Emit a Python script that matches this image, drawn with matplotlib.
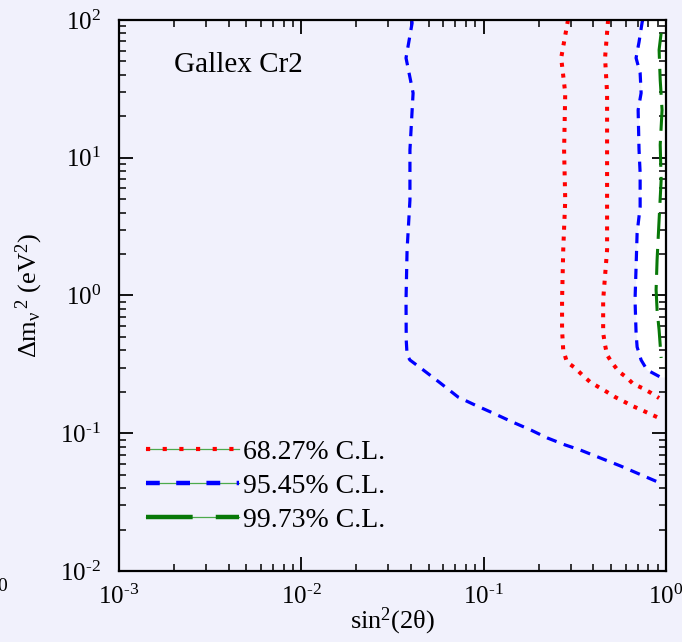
import matplotlib
matplotlib.use("Agg")
import matplotlib.pyplot as plt
import numpy as np
from matplotlib.lines import Line2D
from matplotlib.legend_handler import HandlerTuple
from matplotlib.ticker import FuncFormatter

# contour: sin^2(2theta), dm^2 (eV^2)
blue_left_x = [0.0403, 0.0405, 0.0375, 0.0410, 0.0394, 0.0394, 0.0380, 0.0375, 0.0376,
               0.0380, 0.0394, 0.0466, 0.0577, 0.0724, 0.0898, 0.1127, 0.143, 0.180,
               0.223, 0.280, 0.338, 0.56, 0.929]
blue_left_y = [100, 95, 53, 29.5, 11.4, 4.93, 2.14, 0.927, 0.475,
               0.370, 0.340, 0.288, 0.232, 0.183, 0.160, 0.140, 0.121, 0.106,
               0.0925, 0.0822, 0.0756, 0.058, 0.0435]

blue_right_x = [0.745, 0.740, 0.711, 0.685, 0.721, 0.730, 0.703, 0.711, 0.721, 0.721,
                0.694, 0.685, 0.676, 0.685, 0.694, 0.730, 0.787, 0.929]
blue_right_y = [100, 96.7, 69.2, 53, 41.2, 29.5, 22.2, 11.4, 7.75, 4.39,
                2.84, 1.61, 0.927, 0.535, 0.423, 0.340, 0.288, 0.256]

red_left_x = [0.290, 0.266, 0.280, 0.276, 0.280, 0.273, 0.269, 0.269, 0.273, 0.286, 0.317,
              0.347, 0.384, 0.425, 0.475, 0.526, 0.582, 0.652, 0.730, 0.818, 0.916]
red_left_y = [100, 53, 29.5, 11.4, 4.93, 2.14, 0.927, 0.562, 0.402, 0.329, 0.298,
              0.265, 0.235, 0.217, 0.199, 0.183, 0.171, 0.158, 0.148, 0.138, 0.129]

red_right_x = [0.481, 0.463, 0.475, 0.475, 0.475, 0.452, 0.452, 0.463, 0.475, 0.506,
               0.553, 0.604, 0.661, 0.740, 0.828, 0.916]
red_right_y = [100, 53, 29.5, 11.4, 2.14, 0.927, 0.535, 0.437, 0.370, 0.324,
               0.279, 0.256, 0.228, 0.213, 0.196, 0.180]

green_x = [0.940, 0.916, 0.929, 0.951, 0.929, 0.940, 0.916, 0.893, 0.882, 0.893, 0.916, 0.940]
green_y = [80.5, 60.6, 36.7, 22.2, 12.4, 6.89, 3.53, 1.81, 1.10, 0.785, 0.562, 0.352]

labels = ["68.27% C.L.", "95.45% C.L.", "99.73% C.L."]

bg = "#f1f1fc"
red = "#ff0000"
blue = "#0000ff"
green = "#087808"

plt.rcParams["font.family"] = "Liberation Serif"
plt.rcParams["mathtext.fontset"] = "custom"
plt.rcParams["mathtext.rm"] = "Liberation Serif"
plt.rcParams["mathtext.it"] = "Liberation Serif"
plt.rcParams["axes.unicode_minus"] = False


def pow10(v, pos):
    # 10^n with a short hyphen in the exponent, like the original
    e = int(round(np.log10(v)))
    s = str(e).replace("-", r"\text{-}")
    return r"$\mathdefault{10^{%s}}$" % s


fig = plt.figure(figsize=(6.82, 6.42), dpi=100, facecolor=bg)
ax = fig.add_axes([0.1745, 0.1106, 0.8021, 0.8583], facecolor=bg)
ax.set_xscale("log")
ax.set_yscale("log")
ax.set_xlim(1e-3, 1)
ax.set_ylim(1e-2, 1e2)
ax.xaxis.set_major_formatter(FuncFormatter(pow10))
ax.yaxis.set_major_formatter(FuncFormatter(pow10))

# white allowed strip on the right
ax.fill_betweenx(blue_right_y, blue_right_x, 1, color="white", lw=0)

red_kw = dict(color=red, lw=2.9, dashes=(1, 1.7))
blue_kw = dict(color=blue, lw=2.3, dashes=(3.2, 2.4))
green_kw = dict(color=green, lw=2.2, dashes=(8.5, 3.3))

ax.plot(red_left_x, red_left_y, **red_kw)
ax.plot(red_right_x, red_right_y, **red_kw)
ax.plot(blue_left_x, blue_left_y, **blue_kw)
ax.plot(blue_right_x, blue_right_y, **blue_kw)
ax.plot(green_x, green_y, **green_kw)

thin = dict(color="#4caa4c", lw=0.9)
handles = [
    (Line2D([], [], **thin), Line2D([], [], color=red, lw=3, dashes=(1, 3))),
    (Line2D([], [], **thin), Line2D([], [], color=blue, lw=3.2, dashes=(3.1, 3.7))),
    (Line2D([], [], **thin), Line2D([], [], color=green, lw=3.2, dashes=(10.5, 5.2))),
]
ax.legend(handles, labels, handler_map={tuple: HandlerTuple(ndivide=1, pad=0)},
          loc="center left", bbox_to_anchor=(0.049, 0.154), frameon=False,
          borderpad=0, borderaxespad=0, handlelength=3.35, handletextpad=0.15,
          labelspacing=0.32, fontsize=20)

ax.text(0.218, 0.918, "Gallex Cr2", transform=ax.transAxes, fontsize=21,
        ha="center", va="center")

ax.set_xlabel(r"sin$^2$(2$\theta$)", fontsize=19)
ax.xaxis.set_label_coords(0.5, -0.063)
ax.set_ylabel(r"$\Delta$m$_\nu$$^{\,2}$ (eV$^2$)", fontsize=19)
ax.yaxis.set_label_coords(-0.135, 0.5)

ax.tick_params(which="both", direction="in", top=True, right=True, labelsize=18)
ax.tick_params(which="major", length=10, width=1.3)
ax.tick_params(which="minor", length=5, width=1.1)
ax.tick_params(axis="y", pad=13)
ax.tick_params(axis="x", pad=10)
for s in ax.spines.values():
    s.set_linewidth(1.6)

# clipped label of the neighbouring panel
fig.text(0.0105, 0.0857, "0", fontsize=14, ha="right", va="center")

fig.savefig("out.png", dpi=100, facecolor=bg)
